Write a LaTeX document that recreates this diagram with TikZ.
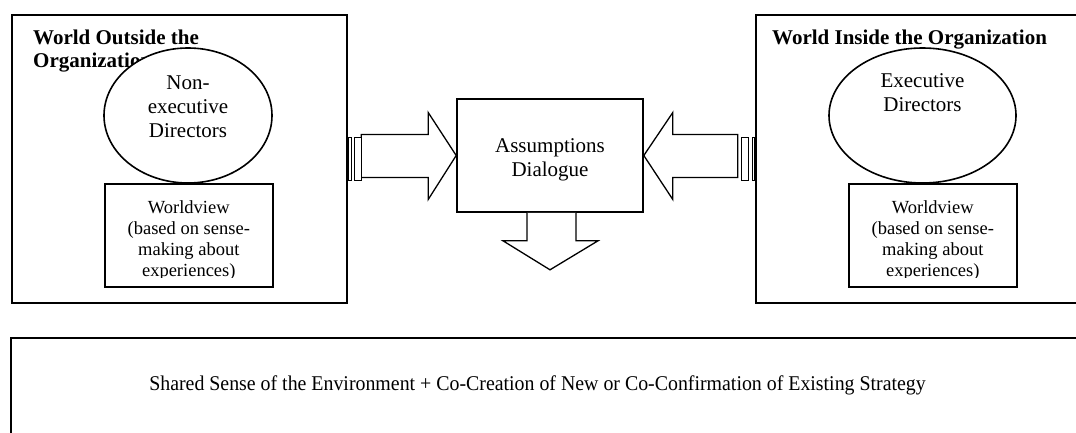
\documentclass[tikz,border=0pt]{standalone}
\usepackage{fontspec}
\setmainfont{Liberation Serif}
\usetikzlibrary{positioning,shapes.geometric,calc}

\begin{document}
\begin{tikzpicture}[
    x=1pt, y=-1pt,
    font=\fontsize{21}{24}\selectfont,
    frame/.style={draw, line width=1.6pt, fill=white, inner sep=0pt, align=center},
    oval/.style={ellipse, draw, line width=1.6pt, fill=white, inner sep=0pt},
    txt/.style={align=center, inner sep=0pt},
    small/.style={txt, font=\fontsize{18.5}{21}\selectfont},
    title/.style={align=left, inner sep=0pt, font=\bfseries\fontsize{21}{22.5}\selectfont},
    blockarr/.style={draw, line width=1.3pt, fill=white, line join=miter},
    stripe/.style={draw, line width=0.9pt, fill=white}
  ]
    \clip (0,0) rectangle (1076,433);
    \fill[white] (0,0) rectangle (1076,433);
    \node[frame, anchor=north west, minimum width=335pt, minimum height=288pt] (outside) at (11,14) {};
    \node[frame, anchor=north west, minimum width=340pt, minimum height=288pt] (inside) at (755,14) {};
    \node[title, anchor=north west] (outT) at (33,30) {World Outside the\\Organization};
    \node[title, anchor=north west] (inT) at (772,30) {World Inside the Organization};
    \node[oval, minimum width=168pt, minimum height=135pt] (ned) at (188,115.5) {};
    \node[txt, anchor=north] (nedT) at ($(ned.north)+(0,28)$) {Non-\\executive\\Directors};
    \node[oval, minimum width=187pt, minimum height=135pt] (ed) at (922.5,115.5) {};
    \node[txt, anchor=north] (edT) at ($(ed.north)+(0,26)$) {Executive\\Directors};
    \node[frame, anchor=north west, minimum width=168pt, minimum height=103pt] (wvl) at (104,183) {};
    \node[frame, anchor=north west, minimum width=168pt, minimum height=103pt] (wvr) at (848,183) {};
    \begin{scope}
      \clip (wvl.north west) rectangle ($(wvl.south east)+(0,-10)$);
      \node[small, anchor=north] (wvlT) at ($(wvl.north)+(0,17.5)$) {Worldview\\(based on sense-\\making about\\experiences)};
    \end{scope}
    \begin{scope}
      \clip (wvr.north west) rectangle ($(wvr.south east)+(0,-10)$);
      \node[small, anchor=north] (wvrT) at ($(wvr.north)+(0,17.5)$) {Worldview\\(based on sense-\\making about\\experiences)};
    \end{scope}
    \node[frame, minimum width=186pt, minimum height=113pt] (dlg) at (550,155.5) {};
    \node[txt] (dlgT) at ($(dlg.center)+(0,4)$) {Assumptions\\Dialogue};
    \draw[blockarr] (dlg.west) -- ++(-28,-43) -- ++(0,22) -- ++(-67,0) -- ++(0,43) -- ++(67,0) -- ++(0,22) -- cycle;
    \draw[stripe] ($(outside.east)+(1,-21)$) rectangle ++(3,43);
    \draw[stripe] ($(outside.east)+(7,-21)$) rectangle ++(7,43);
    \draw[blockarr] (dlg.east) -- ++(29,-43) -- ++(0,22) -- ++(65,0) -- ++(0,43) -- ++(-65,0) -- ++(0,22) -- cycle;
    \draw[stripe] ($(inside.west)+(-14,-21)$) rectangle ++(7,43);
    \draw[stripe] ($(inside.west)+(-3,-21)$) rectangle ++(2,43);
    \draw[blockarr] ($(dlg.south)+(-23,0)$) -- ++(0,28) -- ++(-24,0) -- ($(dlg.south)+(0,57)$) -- ++(48,-29) -- ++(-22,0) -- ++(0,-28);
    \node[frame, anchor=north west, minimum width=1090pt, minimum height=120pt] (shared) at (10,337) {};
    \node[txt] (sharedT) at (537.5,385) {\scalebox{0.946}[1]{Shared Sense of the Environment + Co-Creation of New or Co-Confirmation of Existing Strategy}};
\end{tikzpicture}
\end{document}
